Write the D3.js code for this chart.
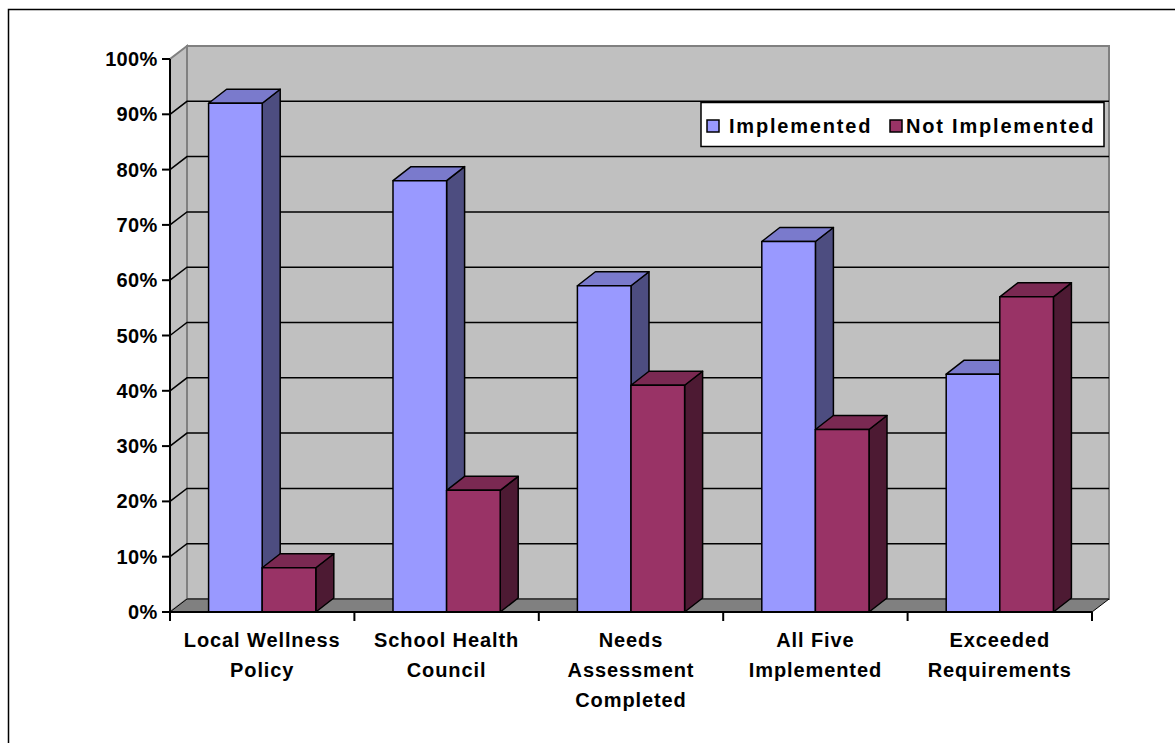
<!DOCTYPE html>
<html>
<head>
<meta charset="utf-8">
<script src="https://cdn.jsdelivr.net/npm/d3@7"></script>
<style>
  body { margin: 0; background: #fff; }
  svg { display: block; font-family: "Liberation Sans", Arial, sans-serif; font-weight: bold; }
</style>
</head>
<body>
<div class="chart"></div>
<script>
// chart data
const categories = [
  ['Local Wellness', 'Policy'],
  ['School Health', 'Council'],
  ['Needs', 'Assessment', 'Completed'],
  ['All Five', 'Implemented'],
  ['Exceeded', 'Requirements']
]
const series = ['Implemented', 'Not Implemented']
const implemented    = [0.92, 0.78, 0.59, 0.67, 0.43]
const notImplemented = [0.08, 0.22, 0.41, 0.33, 0.57]
const yTicks = [0, 0.1, 0.2, 0.3, 0.4, 0.5, 0.6, 0.7, 0.8, 0.9, 1]

const colors = {
  'Implemented':     { front: '#9999ff', top: '#7a7acc', side: '#4d4d80' },
  'Not Implemented': { front: '#993366', top: '#7a2952', side: '#4d1a33' }
}

const W = 1175, H = 743
const plotL = 170, plotR = 1092, plotB = 612, plotT = 59
const wd = { x: 17, y: -13 }   // wall depth
const bd = { x: 18, y: -14 }   // bar depth

const svg = d3.select('.chart').append('svg')
  .attr('width', W).attr('height', H)

// outer frame (only left/top fall inside the picture)
svg.append('rect')
  .attr('x', 8.5).attr('y', 9.5).attr('width', 1200).attr('height', 800)
  .attr('fill', 'none').attr('stroke', '#000').attr('stroke-width', 1.5)

const x = d3.scaleBand().domain(d3.range(categories.length)).range([plotL, plotR])
const xs = d3.scaleBand().domain(series).range([0, x.bandwidth()])
  .paddingInner(0).paddingOuter(0.72)
const y = d3.scaleLinear().domain([0, 1]).range([plotB, plotT])

const pts = a => a.map(p => p.join(',')).join(' ')

// side wall
svg.append('polygon')
  .attr('points', pts([[plotL, y(0)], [plotL, y(1)], [plotL + wd.x, y(1) + wd.y], [plotL + wd.x, y(0) + wd.y]]))
  .attr('fill', '#c0c0c0').attr('stroke', '#808080').attr('stroke-width', 2)

// back wall
svg.append('rect')
  .attr('x', plotL + wd.x).attr('y', y(1) + wd.y)
  .attr('width', plotR - plotL).attr('height', y(0) - y(1))
  .attr('fill', '#c0c0c0').attr('stroke', '#808080').attr('stroke-width', 2)

// gridlines
const grid = yTicks.filter(t => t > 0 && t < 1)
svg.append('g').selectAll('polyline').data(grid).join('polyline')
  .attr('points', t => pts([[plotL, y(t)], [plotL + wd.x, y(t) + wd.y], [plotR + wd.x, y(t) + wd.y]]))
  .attr('fill', 'none').attr('stroke', '#000').attr('stroke-width', 1.5)

// floor
svg.append('polygon')
  .attr('points', pts([[plotL, y(0)], [plotR, y(0)], [plotR + wd.x, y(0) + wd.y], [plotL + wd.x, y(0) + wd.y]]))
  .attr('fill', '#808080').attr('stroke', '#000').attr('stroke-width', 1)

// bars
const rows = []
categories.forEach((c, i) => {
  rows.push({ i, s: series[0], v: implemented[i] })
  rows.push({ i, s: series[1], v: notImplemented[i] })
})

const bar = svg.append('g').selectAll('g').data(rows).join('g')
  .attr('stroke', '#000').attr('stroke-width', 1.5).attr('stroke-linejoin', 'round')

bar.each(function (d) {
  const g = d3.select(this)
  const x0 = x(d.i) + xs(d.s), x1 = x0 + xs.bandwidth()
  const yt = y(d.v), yb = y(0)
  g.append('polygon')
    .attr('points', pts([[x1, yb], [x1, yt], [x1 + bd.x, yt + bd.y], [x1 + bd.x, yb + bd.y]]))
    .attr('fill', colors[d.s].side)
  g.append('polygon')
    .attr('points', pts([[x0, yt], [x1, yt], [x1 + bd.x, yt + bd.y], [x0 + bd.x, yt + bd.y]]))
    .attr('fill', colors[d.s].top)
  g.append('rect')
    .attr('x', x0).attr('y', yt).attr('width', x1 - x0).attr('height', yb - yt)
    .attr('fill', colors[d.s].front)
})

// y axis
const yAxis = svg.append('g')
yAxis.append('line')
  .attr('x1', plotL).attr('x2', plotL).attr('y1', y(1)).attr('y2', y(0))
  .attr('stroke', '#000').attr('stroke-width', 2)
yAxis.selectAll('line.tick').data(yTicks).join('line')
  .attr('class', 'tick')
  .attr('x1', plotL - 8).attr('x2', plotL).attr('y1', d => y(d)).attr('y2', d => y(d))
  .attr('stroke', '#000').attr('stroke-width', 2)
yAxis.selectAll('text').data(yTicks).join('text')
  .attr('x', 157.5).attr('y', d => y(d) + 7)
  .attr('text-anchor', 'end').attr('font-size', 20).attr('letter-spacing', 0.3)
  .text(d3.format('.0%'))

// x axis
const xAxis = svg.append('g')
xAxis.append('line')
  .attr('x1', plotL).attr('x2', plotR).attr('y1', plotB).attr('y2', plotB)
  .attr('stroke', '#000').attr('stroke-width', 2)
const edges = d3.range(categories.length + 1).map(k => plotL + k * x.step())
xAxis.selectAll('line.tick').data(edges).join('line')
  .attr('class', 'tick')
  .attr('x1', d => d).attr('x2', d => d).attr('y1', plotB).attr('y2', plotB + 9)
  .attr('stroke', '#000').attr('stroke-width', 2)
xAxis.selectAll('text').data(categories).join('text')
  .attr('x', (d, i) => x(i) + x.bandwidth() / 2)
  .attr('y', 647)
  .attr('text-anchor', 'middle').attr('font-size', 20).attr('letter-spacing', 0.9)
  .selectAll('tspan').data(d => d).join('tspan')
  .attr('x', function () { return this.parentNode.getAttribute('x') })
  .attr('dy', (d, j) => j === 0 ? 0 : 30)
  .text(d => d)

// legend
const lg = svg.append('g')
lg.append('rect')
  .attr('x', 701).attr('y', 102.5).attr('width', 403).attr('height', 44)
  .attr('fill', '#fff').attr('stroke', '#000').attr('stroke-width', 1.5)
const lx = [707, 890]
const item = lg.selectAll('g').data(series).join('g')
  .attr('transform', (d, i) => `translate(${lx[i]},120)`)
item.append('rect')
  .attr('width', 12).attr('height', 12)
  .attr('fill', d => colors[d].front).attr('stroke', '#000').attr('stroke-width', 1.5)
item.append('text')
  .attr('x', d => d === 'Implemented' ? 22 : 16).attr('y', 13)
  .attr('font-size', 20).attr('letter-spacing', 1.8)
  .text(d => d)
</script>
</body>
</html>
